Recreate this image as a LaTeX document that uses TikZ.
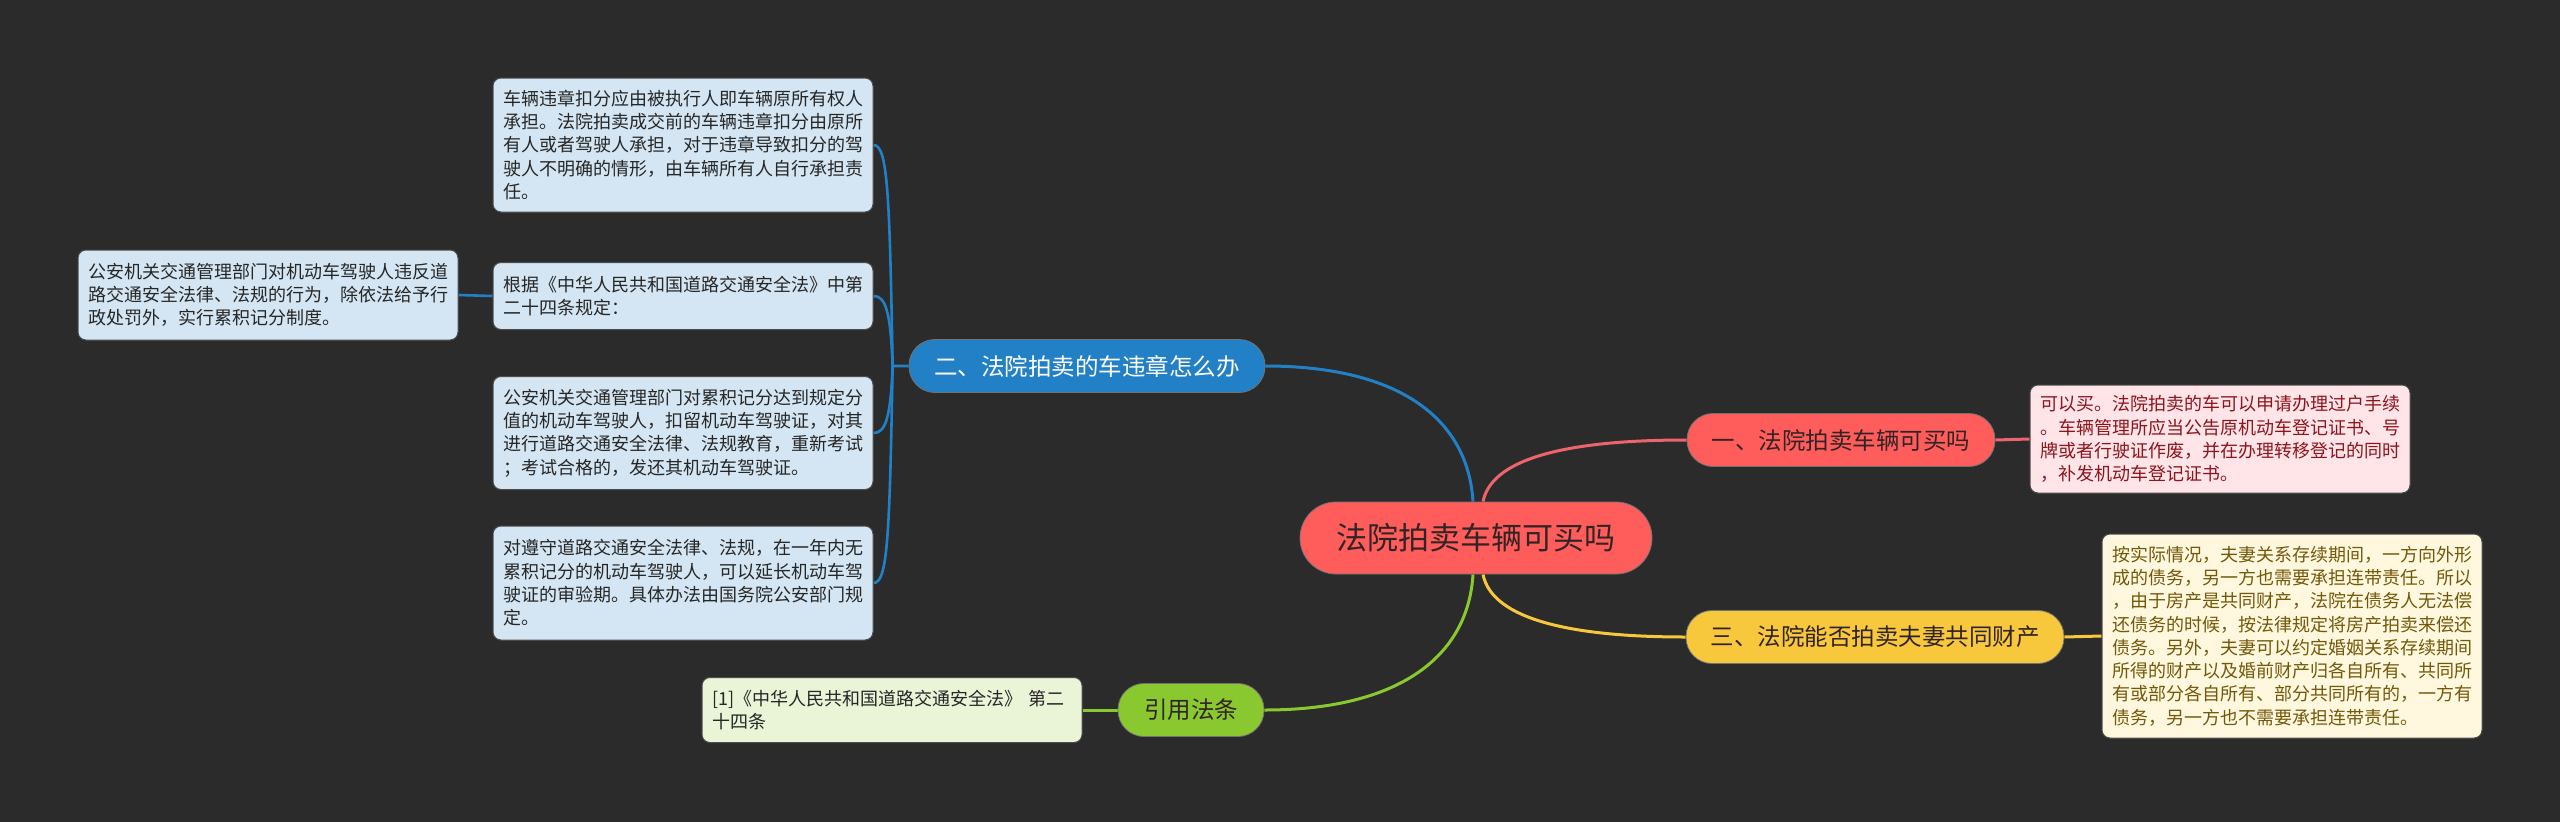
\documentclass[tikz,border=0pt]{standalone}
\usepackage{fontspec}
\setmainfont{Noto Sans CJK SC}
\usetikzlibrary{calc}
\definecolor{bg}{RGB}{43,43,43}
\definecolor{cred}{RGB}{255,92,92}
\definecolor{credline}{RGB}{238,100,108}
\definecolor{credleaf}{RGB}{255,228,232}
\definecolor{credtext}{RGB}{140,20,28}
\definecolor{cblue}{RGB}{34,128,198}
\definecolor{cblueleaf}{RGB}{212,230,243}
\definecolor{cyellow}{RGB}{248,200,60}
\definecolor{cyellowleaf}{RGB}{255,248,222}
\definecolor{cyellowtext}{RGB}{115,88,10}
\definecolor{cgreen}{RGB}{138,200,48}
\definecolor{cgreenleaf}{RGB}{234,245,216}
\definecolor{darktext}{RGB}{50,36,36}
\pgfdeclarelayer{bgfill}
\pgfdeclarelayer{edges}
\pgfsetlayers{bgfill,edges,main}
\begin{document}
\begin{tikzpicture}[x=1pt,y=-1pt,
  pill/.style={rounded corners=26pt, inner sep=0pt, minimum height=53pt,
    font=\fontsize{23.5}{28}\selectfont, draw=black!55, line width=0.8pt},
  leaf/.style={rounded corners=8pt, draw=black!70, line width=1pt,
    text width=360pt, inner xsep=10pt, inner ysep=0pt, align=left,
    font=\fontsize{18}{23.3}\selectfont},
  conn/.style={line width=3pt},
  sub/.style={line width=2.6pt, cblue},
]
\begin{pgfonlayer}{bgfill}
\fill[bg] (0,0) rectangle (2560,822);
\end{pgfonlayer}
\useasboundingbox (0,0) rectangle (2560,822);

% root
\node[pill, fill=cred, text=darktext, minimum width=352pt, minimum height=72pt,
  rounded corners=36pt, font=\fontsize{31}{36}\selectfont] (root) at (1476,538) {法院拍卖车辆可买吗};

% branches
\node[pill, fill=cred, text=darktext, minimum width=308pt] (b1) at (1841,440) {一、法院拍卖车辆可买吗};
\node[pill, fill=cblue, text=white, minimum width=356pt] (b2) at (1087,366) {二、法院拍卖的车违章怎么办};
\node[pill, fill=cyellow, text=darktext, minimum width=378pt] (b3) at (1875,637) {三、法院能否拍卖夫妻共同财产};
\node[pill, fill=cgreen, text=darktext, minimum width=146pt] (b4) at (1191,710) {引用法条};

% leaves
\node[leaf, fill=credleaf, text=credtext, minimum height=108pt] (r1) at (2220,439)
 {可以买。法院拍卖的车可以申请办理过户手续\\。车辆管理所应当公告原机动车登记证书、号\\牌或者行驶证作废，并在办理转移登记的同时\\，补发机动车登记证书。};
\node[leaf, fill=cyellowleaf, text=cyellowtext, minimum height=204pt] (y1) at (2292,636)
 {按实际情况，夫妻关系存续期间，一方向外形\\成的债务，另一方也需要承担连带责任。所以\\，由于房产是共同财产，法院在债务人无法偿\\还债务的时候，按法律规定将房产拍卖来偿还\\债务。另外，夫妻可以约定婚姻关系存续期间\\所得的财产以及婚前财产归各自所有、共同所\\有或部分各自所有、部分共同所有的，一方有\\债务，另一方也不需要承担连带责任。};
\node[leaf, fill=cblueleaf, text=black!85, minimum height=134pt] (l1) at (683,145)
 {车辆违章扣分应由被执行人即车辆原所有权人\\承担。法院拍卖成交前的车辆违章扣分由原所\\有人或者驾驶人承担，对于违章导致扣分的驾\\驶人不明确的情形，由车辆所有人自行承担责\\任。};
\node[leaf, fill=cblueleaf, text=black!85, minimum height=67pt] (l2) at (683,296)
 {根据《中华人民共和国道路交通安全法》中第\\二十四条规定：};
\node[leaf, fill=cblueleaf, text=black!85, minimum height=90pt] (l0) at (268,295)
 {公安机关交通管理部门对机动车驾驶人违反道\\路交通安全法律、法规的行为，除依法给予行\\政处罚外，实行累积记分制度。};
\node[leaf, fill=cblueleaf, text=black!85, minimum height=113pt] (l3) at (683,433)
 {公安机关交通管理部门对累积记分达到规定分\\值的机动车驾驶人，扣留机动车驾驶证，对其\\进行道路交通安全法律、法规教育，重新考试\\；考试合格的，发还其机动车驾驶证。};
\node[leaf, fill=cblueleaf, text=black!85, minimum height=114pt] (l4) at (683,583)
 {对遵守道路交通安全法律、法规，在一年内无\\累积记分的机动车驾驶人，可以延长机动车驾\\驶证的审验期。具体办法由国务院公安部门规\\定。};
\node[leaf, fill=cgreenleaf, text=black!85, minimum height=65pt] (c1) at (892,710)
 {[1]《中华人民共和国道路交通安全法》 第二\\十四条};

% connectors
\begin{pgfonlayer}{edges}
\coordinate (rtR) at ($(root.north)+(7,0)$);
\coordinate (rtL) at ($(root.north)+(-3,0)$);
\coordinate (rbR) at ($(root.south)+(7,0)$);
\coordinate (rbL) at ($(root.south)+(-3,0)$);
\coordinate (hub) at ($(b2.west)+(-16,0)$);
\draw[conn, credline] (rtR) .. controls +(8,-40) and +(-130,0) .. (b1.west);
\draw[conn, cblue] (rtL) .. controls +(-5,-82) and +(135,0) .. (b2.east);
\draw[conn, cyellow] (rbR) .. controls +(8,40) and +(-130,0) .. (b3.west);
\draw[conn, cgreen] (rbL) .. controls +(-5,82) and +(135,0) .. (b4.east);
\draw[conn, credline] (b1.east) -- (r1.west);
\draw[conn, cyellow] (b3.east) -- (y1.west);
\draw[conn, cgreen] (b4.west) -- (c1.east);
\draw[sub] (b2.west) -- (hub) .. controls +(-3,-175) and +(14,0) .. (l1.east);
\draw[sub] (hub) .. controls +(-2,-55) and +(12,0) .. (l2.east);
\draw[sub] (hub) .. controls +(-2,52) and +(12,0) .. (l3.east);
\draw[sub] (hub) .. controls +(-3,172) and +(14,0) .. (l4.east);
\draw[sub] (l2.west) -- (l0.east);
\end{pgfonlayer}
\end{tikzpicture}
\end{document}
